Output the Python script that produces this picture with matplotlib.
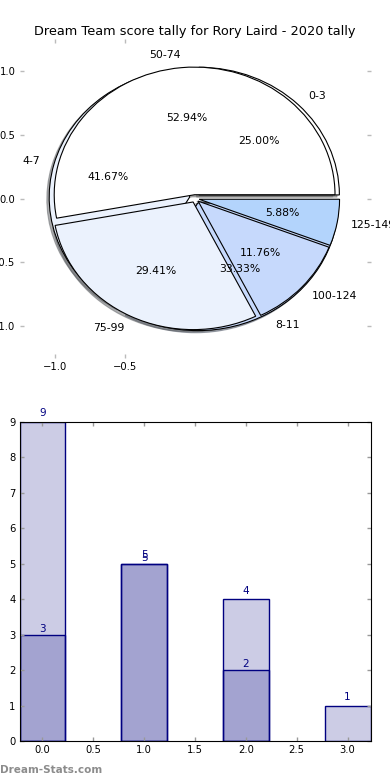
import numpy as np
import matplotlib
matplotlib.use("Agg")
import matplotlib.pyplot as plt

# pie data (two rings drawn on top of each other)
small_labels = ['0-3', '4-7', '8-11']
small_counts = [3, 5, 4]
big_labels = ['50-74', '75-99', '100-124', '125-149']
big_counts = [9, 5, 2, 1]
pie_colors = ['#ffffff', '#ebf2fd', '#c6d9fc', '#b3d4fc']

# bar data
bar_x = [0, 1, 2, 3]
light_heights = [9, 5, 4, 1]
dark_x = [0, 1, 2]
dark_heights = [3, 5, 2]

fig = plt.figure(figsize=(3.9, 7.8), dpi=100)
fig.subplots_adjust(left=0.05, right=0.95, bottom=0.05, top=0.95, hspace=0.2)
ax1 = fig.add_subplot(2, 1, 1)
ax2 = fig.add_subplot(2, 1, 2)

# ---- top: pie ----
wedgeprops = dict(edgecolor='black', linewidth=0.8)
shadow = dict(ox=-0.012, oy=-0.012, shade=0.6)
ax1.pie(small_counts, labels=small_labels, colors=pie_colors[:3], explode=[0.04] * 3,
        autopct='%1.2f%%', shadow=shadow, wedgeprops=wedgeprops,
        textprops=dict(fontsize=7.8))
ax1.pie(big_counts, labels=big_labels, colors=pie_colors, explode=[0.03] * 4,
        autopct='%1.2f%%', shadow=shadow, wedgeprops=wedgeprops,
        textprops=dict(fontsize=7.8))
ax1.set_aspect('auto')
ax1.set_xlim(-1.25, 1.25)
ax1.set_ylim(-1.25, 1.25)
ax1.set_xticks([-1.0, -0.5])
ax1.set_yticks([-1.0, -0.5, 0.0, 0.5, 1.0])
ax1.tick_params(direction='in', length=3, width=1, color='#bbbbbb', labelsize=7.2,
                top=True, right=True, pad=3)
ax1.set_title('Dream Team score tally for Rory Laird - 2020 tally', fontsize=9.3, pad=3)

# ---- bottom: bars ----
ax2.bar(bar_x, light_heights, width=0.45, color='navy', alpha=0.2)
ax2.bar(bar_x, light_heights, width=0.45, fill=False, edgecolor='navy', linewidth=1)
ax2.bar(dark_x, dark_heights, width=0.45, color='navy', alpha=0.2)
ax2.bar(dark_x, dark_heights, width=0.45, fill=False, edgecolor='navy', linewidth=1)
for x, h in zip(bar_x, light_heights):
    ax2.text(x, h + 0.1, str(h), ha='center', va='bottom', color='navy', fontsize=7.5)
for x, h in zip(dark_x, dark_heights):
    ax2.text(x, h + 0.03, str(h), ha='center', va='bottom', color='navy', fontsize=7.5)
ax2.set_xlim(-0.225, 3.225)
ax2.set_ylim(0, 9)
ax2.set_xticks(np.arange(0, 3.01, 0.5))
ax2.set_yticks(range(0, 10))
ax2.tick_params(direction='in', length=3, width=1, color='#999999', labelsize=7.2,
                top=True, right=True, pad=3)

fig.text(0.0, 0.013, 'Dream-Stats.com', fontsize=7.5, fontweight='bold',
         color='#8c8c8c', ha='left', va='center')

fig.savefig('out.png', dpi=100)
